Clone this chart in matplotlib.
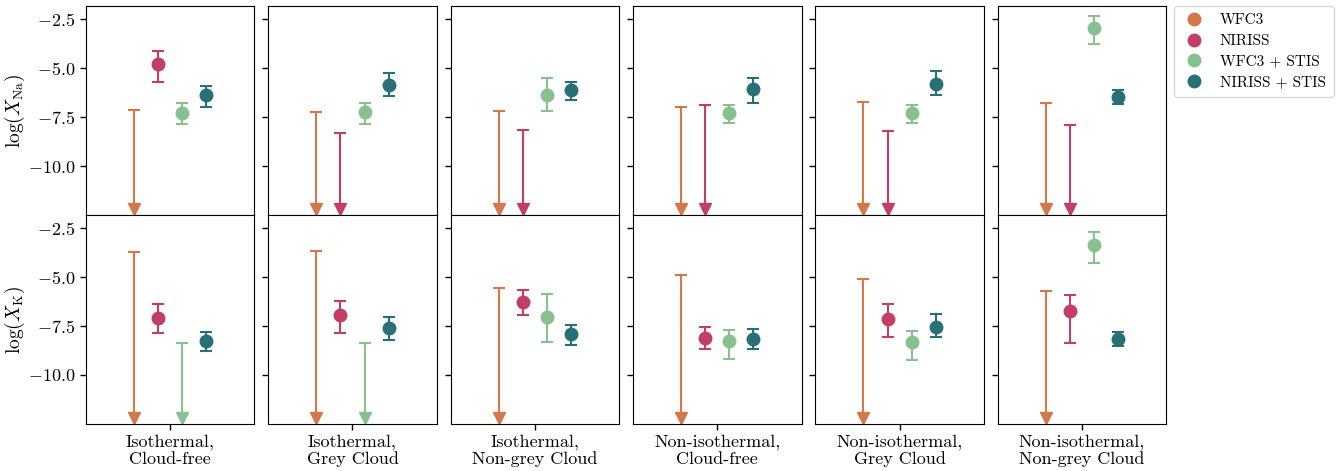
import matplotlib.pyplot as plt
import numpy as np

plt.rcParams["font.family"] = "serif"
plt.rcParams["font.serif"] = ["cmr10"]
plt.rcParams["mathtext.fontset"] = "cm"
plt.rcParams["axes.formatter.use_mathtext"] = True

scenarios = ["Isothermal,\nCloud-free", "Isothermal,\nGrey Cloud", "Isothermal,\nNon-grey Cloud",
             "Non-isothermal,\nCloud-free", "Non-isothermal,\nGrey Cloud", "Non-isothermal,\nNon-grey Cloud"]
instruments = ["WFC3", "NIRISS", "WFC3 + STIS", "NIRISS + STIS"]
colors = ["#D4774A", "#C23E67", "#88C090", "#287076"]

# value, upper error, lower error; None error => upper limit (value is the limit)
# log(X_Na)
na_val = [[-7.12, -4.81, -7.27, -6.37],
          [-7.24, -8.31, -7.25, -5.84],
          [-7.17, -8.15, -6.35, -6.12],
          [-6.98, -6.88, -7.30, -6.05],
          [-6.71, -8.20, -7.29, -5.81],
          [-6.78, -7.92, -2.98, -6.46]]
na_up = [[None, 0.68, 0.51, 0.47],
         [None, None, 0.49, 0.61],
         [None, None, 0.84, 0.43],
         [None, None, 0.42, 0.56],
         [None, None, 0.41, 0.66],
         [None, None, 0.65, 0.34]]
na_lo = [[None, 0.88, 0.58, 0.60],
         [None, None, 0.60, 0.58],
         [None, None, 0.82, 0.51],
         [None, None, 0.50, 0.73],
         [None, None, 0.51, 0.56],
         [None, None, 0.78, 0.37]]
# log(X_K)
k_val = [[-3.72, -7.08, -8.36, -8.29],
         [-3.67, -6.95, -8.36, -7.59],
         [-5.54, -6.29, -7.03, -7.90],
         [-4.91, -8.09, -8.29, -8.15],
         [-5.10, -7.13, -8.34, -7.56],
         [-5.73, -6.73, -3.37, -8.15]]
k_up = [[None, 0.71, None, 0.48],
        [None, 0.71, None, 0.56],
        [None, 0.63, 1.17, 0.46],
        [None, 0.55, 0.58, 0.49],
        [None, 0.74, 0.58, 0.66],
        [None, 0.80, 0.67, 0.34]]
k_lo = [[None, 0.77, None, 0.47],
        [None, 0.90, None, 0.61],
        [None, 0.64, 1.28, 0.56],
        [None, 0.57, 0.90, 0.51],
        [None, 0.94, 0.88, 0.51],
        [None, 1.63, 0.93, 0.36]]

ymin, ymax = -12.5, -1.84
arrow_y = -12.2

fig, axes = plt.subplots(2, 6, figsize=(13.41, 4.71), dpi=100, sharey=True)
fig.subplots_adjust(left=0.064, right=0.8697, top=0.987, bottom=0.0998, wspace=0.082, hspace=0)

x = np.arange(4)
rows = [(na_val, na_up, na_lo, r"$\log(X_{\rm Na})$"),
        (k_val, k_up, k_lo, r"$\log(X_{\rm K})$")]

for r, (vals, ups, los, ylab) in enumerate(rows):
    for c in range(6):
        ax = axes[r, c]
        for i in range(4):
            v = vals[c][i]
            if ups[c][i] is None:
                # upper limit: line from limit down to an arrow head
                ax.plot([x[i], x[i]], [v, arrow_y], color=colors[i], lw=1.5)
                ax.plot(x[i], v, marker="_", ms=8, mew=1.5, color=colors[i])
                ax.plot(x[i], arrow_y, marker="v", ms=8, color=colors[i], ls="none")
            else:
                ax.errorbar(x[i], v, yerr=[[los[c][i]], [ups[c][i]]], fmt="o", ms=9,
                            color=colors[i], elinewidth=1.5, capsize=4, capthick=1.5)
        ax.set_xlim(-2, 5)
        ax.set_ylim(ymin, ymax)
        ax.set_yticks([-2.5, -5.0, -7.5, -10.0])
        ax.tick_params(labelsize=13, width=1.0, length=4)
        if r == 0:
            ax.set_xticks([])
        else:
            ax.set_xticks([1.5])
            ax.set_xticklabels([scenarios[c]], fontsize=13, linespacing=1.1)
        if c == 0:
            ax.set_ylabel(ylab, fontsize=14, labelpad=1)

handles = [plt.Line2D([], [], marker="o", ls="none", ms=9, color=col) for col in colors]
fig.legend(handles, instruments, loc="upper left", bbox_to_anchor=(0.8755, 0.987), fontsize=11,
           framealpha=0.8, borderpad=0.5, labelspacing=0.45, handlelength=1.6, handletextpad=0.9,
           borderaxespad=0)

plt.savefig("out.png", dpi=100)
